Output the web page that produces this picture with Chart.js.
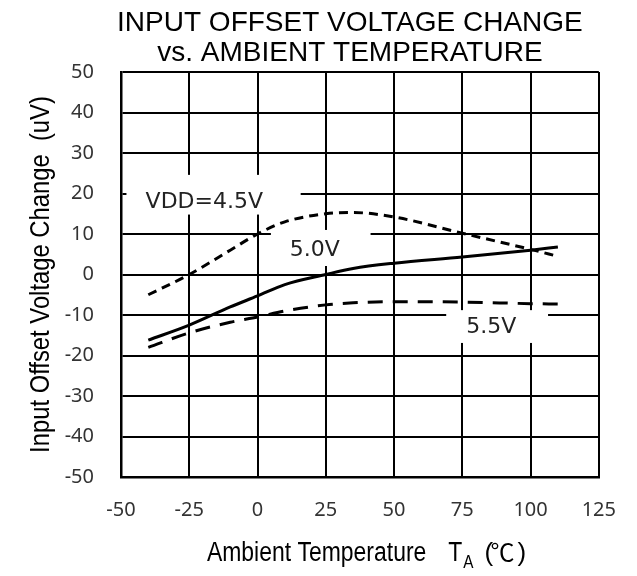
<!DOCTYPE html>
<html>
<head>
<meta charset="utf-8">
<script src="https://cdn.jsdelivr.net/npm/chart.js@4/dist/chart.umd.min.js"></script>
<style>
  html, body { margin: 0; padding: 0; background: #fff; }
  #wrap { width: 637px; height: 576px; }
</style>
</head>
<body>
<div id="wrap"><canvas id="offsetChart"></canvas></div>
<script>
// data (temperature in degC, offset change in uV)
const temps = [-40, -25, -10, 0, 10, 25, 35, 50, 75, 100, 110];
const vdd45 = [-5, 0, 6, 10, 13, 15, 15.3, 14.2, 10.2, 6.2, 4.5];
const vdd50 = [-16.2, -12.5, -8, -5.3, -2.5, 0, 1.5, 2.8, 4.3, 6.0, 6.8];
const vdd55 = [-18, -14.4, -11.8, -10.5, -9, -7.5, -7, -6.7, -6.8, -7.2, -7.3];
const xTicks = [-50, -25, 0, 25, 50, 75, 100, 125];
const yTicks = [-50, -40, -30, -20, -10, 0, 10, 20, 30, 40, 50];

const titleLines = ['INPUT OFFSET VOLTAGE CHANGE', 'vs. AMBIENT TEMPERATURE'];
const yTitle = 'Input Offset Voltage Change  (uV)';

const sans = '"Liberation Sans", Arial, sans-serif';
const tickFont = '"Noto Sans", sans-serif';

function toPoints(vals) {
  return temps.map((t, i) => ({ x: t, y: vals[i] }));
}

// series labels on white boxes (text centre and box in data units)
const curveLabels = [
  { text: 'VDD=4.5V', x: -19.5, y: 17.8, box: [-48, 15.8, 24.6, 14.8] },
  { text: '5.0V', x: 21, y: 6.0, box: [4.9, 41.4, 11, 2.1] },
  { text: '5.5V', x: 85.6, y: -13.1, box: [69.1, 106.4, -8.8, -16.9] }
];

// narrow text like Arial Narrow: squeeze horizontally
function narrowText(ctx, text, x, y, size, align) {
  ctx.save();
  ctx.translate(x, y);
  ctx.scale(0.85, 1);
  ctx.font = size + 'px ' + sans;
  ctx.textAlign = align || 'left';
  ctx.fillText(text, 0, 0);
  const w = ctx.measureText(text).width * 0.85;
  ctx.restore();
  return w;
}

const textPlugin = {
  id: 'textPlugin',
  beforeDatasetsDraw(chart) {
    const { ctx, scales: { x, y } } = chart;
    ctx.save();
    ctx.fillStyle = '#fff';
    curveLabels.forEach(l => {
      const x0 = x.getPixelForValue(l.box[0]);
      const x1 = x.getPixelForValue(l.box[1]);
      const y0 = y.getPixelForValue(l.box[2]);
      const y1 = y.getPixelForValue(l.box[3]);
      ctx.fillRect(x0, y0, x1 - x0, y1 - y0);
    });
    ctx.fillStyle = '#222';
    ctx.font = '22px "DejaVu Sans", sans-serif';
    ctx.textAlign = 'center';
    ctx.textBaseline = 'middle';
    curveLabels.forEach(l => {
      ctx.fillText(l.text, x.getPixelForValue(l.x), y.getPixelForValue(l.y));
    });
    ctx.restore();
  },
  afterDraw(chart) {
    const { ctx, chartArea: area } = chart;
    const mid = (area.left + area.right) / 2;
    ctx.save();
    ctx.fillStyle = '#000';
    ctx.textBaseline = 'alphabetic';

    // main title, two lines
    ctx.font = '28px ' + sans;
    ctx.textAlign = 'center';
    ctx.fillText(titleLines[0], mid - 10, area.top - 41);
    ctx.fillText(titleLines[1], mid - 10, area.top - 11);

    // y axis title, rotated
    ctx.save();
    ctx.translate(area.left - 72, (area.top + area.bottom) / 2);
    ctx.rotate(-Math.PI / 2);
    narrowText(ctx, yTitle, 0, 0, 28, 'center');
    ctx.restore();

    // x axis title with subscript A
    const base = area.bottom + 84;
    let sx = mid - 153;
    sx += narrowText(ctx, 'Ambient Temperature', sx, base, 27);
    sx += 22;
    sx += narrowText(ctx, 'T', sx, base, 27);
    sx += 1;
    sx += narrowText(ctx, 'A', sx, base + 7, 18);
    sx += 11;
    ctx.textAlign = 'left';
    ctx.font = '26px ' + sans;
    ctx.fillText('(', sx, base);
    ctx.font = '24px "Noto Sans CJK JP", sans-serif';
    ctx.fillText('\u2103', sx + 6, base);
    ctx.font = '26px ' + sans;
    ctx.fillText(')', sx + 33, base);
    ctx.restore();
  }
};

const ctx = document.getElementById('offsetChart').getContext('2d');

new Chart(ctx, {
  type: 'line',
  data: {
    datasets: [
      {
        label: 'VDD=4.5V',
        data: toPoints(vdd45),
        borderColor: '#000',
        borderWidth: 3,
        borderDash: [9, 6],
        pointRadius: 0,
        fill: false,
        cubicInterpolationMode: 'monotone'
      },
      {
        label: '5.0V',
        data: toPoints(vdd50),
        borderColor: '#000',
        borderWidth: 3,
        pointRadius: 0,
        fill: false,
        cubicInterpolationMode: 'monotone'
      },
      {
        label: '5.5V',
        data: toPoints(vdd55),
        borderColor: '#000',
        borderWidth: 3,
        borderDash: [15, 10],
        pointRadius: 0,
        fill: false,
        cubicInterpolationMode: 'monotone'
      }
    ]
  },
  options: {
    responsive: true,
    maintainAspectRatio: false,
    animation: false,
    layout: { padding: { left: 0, right: 36, top: 72, bottom: 0 } },
    plugins: {
      legend: { display: false },
      tooltip: { enabled: false },
      title: { display: false }
    },
    scales: {
      x: {
        type: 'linear',
        min: -50,
        max: 125,
        afterBuildTicks: axis => { axis.ticks = xTicks.map(v => ({ value: v })); },
        afterFit: axis => { axis.height = 99; },
        ticks: {
          color: '#333',
          padding: 21,
          maxRotation: 0,
          font: { family: tickFont, size: 20 }
        },
        grid: { color: '#000', lineWidth: 2, drawTicks: false },
        border: { color: '#000', width: 2.5 }
      },
      y: {
        min: -50,
        max: 50,
        afterBuildTicks: axis => { axis.ticks = yTicks.map(v => ({ value: v })); },
        afterFit: axis => { axis.width = 121; },
        ticks: {
          color: '#333',
          padding: 27,
          font: { family: tickFont, size: 20 }
        },
        grid: { color: '#000', lineWidth: 2, drawTicks: false },
        border: { color: '#000', width: 2.5 }
      }
    }
  },
  plugins: [textPlugin]
});
</script>
</body>
</html>
